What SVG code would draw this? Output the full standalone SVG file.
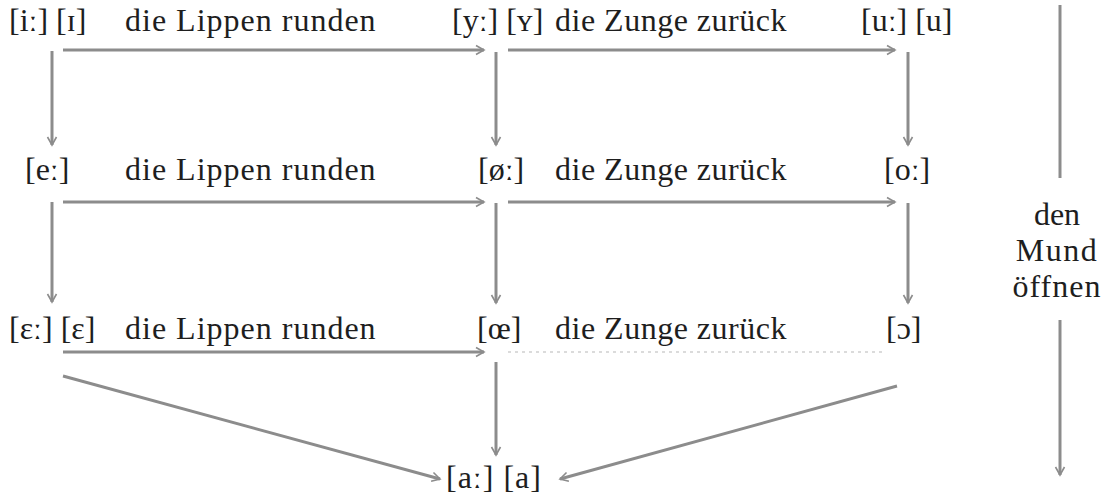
<svg xmlns="http://www.w3.org/2000/svg" width="1102" height="495" viewBox="0 0 1102 495">
<defs>
<style>
.c{stroke:#8c8c8c;stroke-width:3;fill:none}
.f{stroke:#cfcfcf;stroke-width:1.4;stroke-dasharray:3 4;fill:none}
</style>
<marker id="ah" markerUnits="userSpaceOnUse" markerWidth="14" markerHeight="14" refX="10" refY="6" orient="auto">
<path d="M2,1.5 L10,6 L2,10.5" fill="none" stroke="#8c8c8c" stroke-width="1.6"/>
</marker>
</defs>
<rect width="1102" height="495" fill="#fff"/>
<g fill="#1e1e1e" font-family="Liberation Serif" font-size="32">
<g id="row1">
<g id="n-i"><text x="9" y="31">[iː] [ɪ]</text></g>
<g id="l-r1a"><text x="125" y="31" letter-spacing="1">die Lippen runden</text></g>
<g id="n-y"><text x="452" y="31">[yː] [ʏ]</text></g>
<g id="l-r1b"><text x="555" y="31" letter-spacing="0.5">die Zunge zurück</text></g>
<g id="n-u"><text x="861" y="31">[uː] [u]</text></g>
</g>
<g id="row2">
<g id="n-e"><text x="25" y="180">[eː]</text></g>
<g id="l-r2a"><text x="125" y="180" letter-spacing="1">die Lippen runden</text></g>
<g id="n-oe"><text x="478" y="180">[øː]</text></g>
<g id="l-r2b"><text x="555" y="180" letter-spacing="0.5">die Zunge zurück</text></g>
<g id="n-o"><text x="884" y="180">[oː]</text></g>
</g>
<g id="row3">
<g id="n-eps"><text x="9" y="339">[ɛː] [ɛ]</text></g>
<g id="l-r3a"><text x="125" y="339" letter-spacing="1">die Lippen runden</text></g>
<g id="n-oel"><text x="477" y="339">[œ]</text></g>
<g id="l-r3b"><text x="555" y="339" letter-spacing="0.5">die Zunge zurück</text></g>
<g id="n-openo"><text x="886" y="339">[ɔ]</text></g>
</g>
<g id="n-a"><text x="446" y="488" letter-spacing="1">[aː] [a]</text></g>
<g id="l-mund" text-anchor="middle">
<text x="1057" y="225">den</text>
<text x="1057" y="261" letter-spacing="1.5">Mund</text>
<text x="1057" y="297" letter-spacing="1">öffnen</text>
</g>
</g>
<g id="connectors">
<line class="c" x1="63" y1="50" x2="484" y2="50" marker-end="url(#ah)"/>
<line class="c" x1="508" y1="50" x2="895" y2="50" marker-end="url(#ah)"/>
<line class="c" x1="63" y1="202" x2="484" y2="202" marker-end="url(#ah)"/>
<line class="c" x1="508" y1="202" x2="895" y2="202" marker-end="url(#ah)"/>
<line class="c" x1="63" y1="352" x2="484" y2="352" marker-end="url(#ah)"/>
<line class="f" x1="508" y1="352" x2="885" y2="352"/>
<line class="c" x1="52" y1="51" x2="52" y2="145" marker-end="url(#ah)"/>
<line class="c" x1="52" y1="202" x2="52" y2="302" marker-end="url(#ah)"/>
<line class="c" x1="496" y1="52" x2="496" y2="145" marker-end="url(#ah)"/>
<line class="c" x1="496" y1="203" x2="496" y2="303" marker-end="url(#ah)"/>
<line class="c" x1="496" y1="362" x2="496" y2="455" marker-end="url(#ah)"/>
<line class="c" x1="908" y1="52" x2="908" y2="145" marker-end="url(#ah)"/>
<line class="c" x1="908" y1="203" x2="908" y2="303" marker-end="url(#ah)"/>
<line class="c" x1="63" y1="376" x2="440" y2="479" marker-end="url(#ah)"/>
<line class="c" x1="897" y1="386" x2="560" y2="479" marker-end="url(#ah)"/>
<line class="c" x1="1060" y1="5" x2="1060" y2="178"/>
<line class="c" x1="1060" y1="320" x2="1060" y2="475" marker-end="url(#ah)"/>
</g>
</svg>
